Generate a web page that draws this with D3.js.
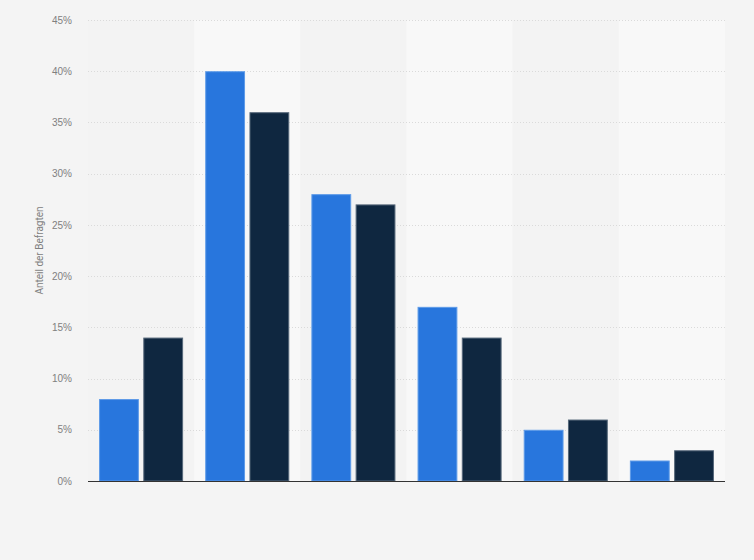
<!DOCTYPE html>
<html>
<head>
<meta charset="utf-8">
<script src="https://cdn.jsdelivr.net/npm/d3@7"></script>
<style>
    body { margin: 0; background: #f4f4f4; }
    svg { display: block; font-family: Roboto, "Open Sans", Arial, sans-serif; }
</style>
</head>
<body>
<svg id="chart" width="754" height="560"></svg>
<script>
// categories (no labels shown in the picture) and the two series
const categories = ['g1', 'g2', 'g3', 'g4', 'g5', 'g6'];
const seriesKeys = ['a', 'b'];
const seriesA = [8, 40, 28, 17, 5, 2];
const seriesB = [14, 36, 27, 14, 6, 3];
const yTicks = [0, 5, 10, 15, 20, 25, 30, 35, 40, 45];

const colors = { a: '#2876dd', b: '#0f2740' };
const strokes = { a: '#5e9be8', b: '#56687a' };

const width = 754;
const height = 560;
const margin = { top: 20, right: 29, bottom: 79, left: 88 };

const svg = d3.select('#chart');

const x0 = d3.scaleBand()
    .domain(categories)
    .range([margin.left, width - margin.right])
    .paddingInner(0)
    .paddingOuter(0);

const x1 = d3.scaleBand()
    .domain(seriesKeys)
    .range([0, x0.bandwidth()])
    .paddingInner(0.1)
    .paddingOuter(0.25);

const y = d3.scaleLinear()
    .domain([0, 45])
    .range([height - margin.bottom, margin.top]);

// alternating column bands
svg.append('g').selectAll('rect')
    .data(categories)
    .join('rect')
    .attr('x', d => x0(d))
    .attr('y', y(45))
    .attr('width', x0.bandwidth())
    .attr('height', y(0) - y(45))
    .attr('fill', (d, i) => i % 2 ? '#f8f8f8' : '#f3f3f3');

// grid lines
svg.append('g')
    .selectAll('line')
    .data(yTicks.filter(t => t > 0))
    .join('line')
    .attr('x1', margin.left)
    .attr('x2', width - margin.right)
    .attr('y1', d => Math.round(y(d)) + 0.5)
    .attr('y2', d => Math.round(y(d)) + 0.5)
    .attr('stroke', '#dadada')
    .attr('stroke-dasharray', '1,2');

// y axis labels
const yAxis = svg.append('g')
    .attr('transform', `translate(${margin.left}, 0)`)
    .call(d3.axisLeft(y).tickValues(yTicks).tickSize(0).tickPadding(16).tickFormat(d => d + '%'));
yAxis.select('.domain').remove();
yAxis.selectAll('text')
    .attr('fill', '#808080')
    .style('font-size', '10px');

svg.append('text')
    .attr('transform', `translate(43, ${(y(0) + y(45)) / 2}) rotate(-90)`)
    .attr('text-anchor', 'middle')
    .attr('fill', '#808080')
    .style('font-size', '10px')
    .text('Anteil der Befragten');

// bars
const rows = categories.map((c, i) => ({ cat: c, a: seriesA[i], b: seriesB[i] }));

const groups = svg.append('g').selectAll('g')
    .data(rows)
    .join('g')
    .attr('transform', d => `translate(${x0(d.cat)}, 0)`);

groups.selectAll('rect')
    .data(d => seriesKeys.map(k => ({ key: k, value: d[k] })))
    .join('rect')
    .attr('x', d => x1(d.key) + 0.5)
    .attr('y', d => y(d.value) + 0.5)
    .attr('width', x1.bandwidth() - 1)
    .attr('height', d => y(0) - y(d.value) - 0.5)
    .attr('fill', d => colors[d.key])
    .attr('stroke', d => strokes[d.key])
    .attr('stroke-width', 1);

// baseline
svg.append('line')
    .attr('x1', margin.left)
    .attr('x2', width - margin.right)
    .attr('y1', y(0) + 0.5)
    .attr('y2', y(0) + 0.5)
    .attr('stroke', '#333')
    .attr('stroke-width', 1.2);
</script>
</body>
</html>
